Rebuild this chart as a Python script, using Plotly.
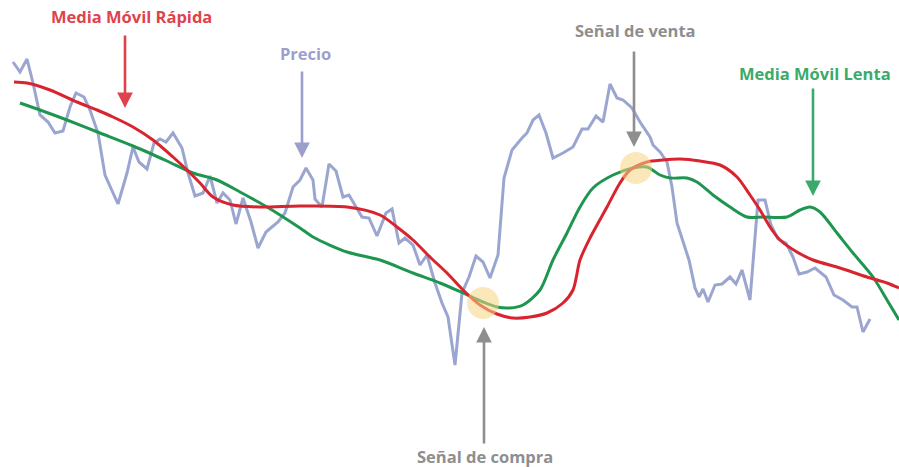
import plotly.graph_objects as go

# Price series (horizontal position, vertical level; y grows downward)
price_x = [13, 20, 27, 33, 40, 48, 55, 63, 70, 76, 84, 90, 98, 105, 118, 127, 133, 139, 147, 154,
           160, 166, 173, 182, 188, 195, 203, 210, 217, 223, 230, 236, 243, 251, 258, 266, 278, 285,
           293, 300, 306, 313, 315, 322, 329, 336, 343, 349, 362, 369, 377, 386, 392, 399, 405, 413,
           420, 427, 435, 442, 448, 455, 462, 469, 476, 483, 490, 498, 504, 512, 522, 527, 533, 539,
           546, 553, 563, 573, 582, 588, 596, 603, 610, 617, 623, 632, 640, 650, 653, 660, 667, 672,
           677, 683, 689, 695, 699, 703, 708, 715, 722, 730, 736, 742, 750, 758, 765, 771, 778, 786,
           793, 799, 807, 815, 826, 834, 843, 852, 857, 863, 870]
price_y = [62, 72, 59, 83, 115, 122, 133, 131, 107, 93, 97, 110, 133, 175, 204, 173, 147, 162, 169, 143,
           139, 142, 133, 148, 173, 196, 193, 176, 203, 193, 200, 224, 198, 222, 248, 232, 222, 213,
           187, 180, 168, 180, 199, 207, 164, 171, 197, 195, 217, 218, 236, 213, 209, 243, 238, 245,
           265, 255, 283, 303, 317, 365, 293, 277, 256, 262, 278, 255, 178, 150, 138, 133, 120, 115,
           133, 158, 153, 147, 129, 129, 116, 122, 84, 98, 100, 108, 122, 137, 145, 152, 162, 187,
           223, 242, 260, 288, 297, 289, 302, 285, 284, 277, 284, 270, 300, 200, 200, 225, 239, 243,
           257, 274, 272, 268, 277, 295, 300, 307, 307, 332, 319]

fast_x = [14, 27, 50, 77, 97, 113, 133, 153, 173, 187, 200, 213, 233, 260, 300, 347, 380, 397, 413,
          430, 447, 463, 480, 497, 513, 530, 547, 563, 573, 580, 590, 607, 620, 630, 647, 663, 680,
          700, 720, 737, 750, 760, 770, 780, 797, 813, 840, 867, 887, 899]
fast_y = [82, 83, 90, 102, 110, 117, 127, 140, 157, 170, 183, 197, 205, 207, 206, 207, 215, 227, 240,
          257, 273, 290, 305, 314, 318, 317, 313, 303, 290, 260, 238, 207, 183, 170, 162, 160, 159,
          161, 165, 177, 195, 210, 227, 240, 252, 260, 268, 277, 283, 288]

slow_x = [20, 40, 67, 100, 133, 167, 193, 217, 240, 267, 300, 313, 347, 380, 413, 440, 463, 483,
          497, 510, 523, 540, 553, 567, 580, 593, 613, 633, 647, 660, 670, 687, 697, 713, 730, 747,
          763, 787, 800, 810, 820, 837, 853, 873, 887, 899]
slow_y = [103, 110, 120, 133, 146, 161, 173, 180, 192, 207, 228, 237, 252, 260, 273, 283, 293, 302,
          307, 308, 305, 290, 260, 233, 207, 188, 175, 168, 167, 175, 178, 178, 182, 195, 207, 217,
          217, 217, 210, 207, 212, 233, 253, 277, 300, 320]

signal_x = [483, 636]
signal_y = [303, 168]

labels = ["Media Móvil Rápida", "Precio", "Señal de venta", "Media Móvil Lenta", "Señal de compra"]
label_colors = ["#E0424C", "#9C9FCC", "#8E8E8E", "#3AAA6C", "#8E8E8E"]
label_pos = [(131, 16), (305, 53), (635, 30), (815, 73), (485, 456)]
arrow_from = [(125, 34), (302, 70), (634, 50), (813, 87), (484, 445)]
arrow_to = [(125, 108), (302, 158), (634, 147), (813, 196), (484, 327)]

fig = go.Figure()

fig.add_trace(go.Scatter(x=price_x, y=price_y, mode="lines",
                         line=dict(color="#9AA6D0", width=3), hoverinfo="skip"))
fig.add_trace(go.Scatter(x=slow_x, y=slow_y, mode="lines",
                         line=dict(color="#1E9650", width=3, shape="spline", smoothing=0.8), hoverinfo="skip"))
fig.add_trace(go.Scatter(x=fast_x, y=fast_y, mode="lines",
                         line=dict(color="#D8242F", width=3, shape="spline", smoothing=0.8), hoverinfo="skip"))
fig.add_trace(go.Scatter(x=signal_x, y=signal_y, mode="markers",
                         marker=dict(size=32, color="rgba(248,214,130,0.55)", line=dict(width=0)),
                         hoverinfo="skip"))

annotations = []
for txt, col, (tx, ty), (fx, fy), (ex, ey) in zip(labels, label_colors, label_pos, arrow_from, arrow_to):
    annotations.append(dict(x=tx, y=ty, xref="x", yref="y", text="<b>%s</b>" % txt, showarrow=False,
                            font=dict(family="Open Sans", size=16.5, color=col),
                            borderpad=0))
    annotations.append(dict(x=ex, y=ey, ax=fx, ay=fy, xref="x", yref="y", axref="x", ayref="y",
                            text="", showarrow=True, arrowhead=2, arrowsize=1.2, arrowwidth=2.6,
                            arrowcolor=col, standoff=0, startstandoff=0))

fig.update_layout(
    width=899, height=467,
    margin=dict(l=0, r=0, t=0, b=0),
    paper_bgcolor="white", plot_bgcolor="white",
    showlegend=False,
    xaxis=dict(range=[0, 899], visible=False, fixedrange=True),
    yaxis=dict(range=[467, 0], visible=False, fixedrange=True),
    annotations=annotations,
)

fig.write_html("out.html", config={"displayModeBar": False},
               post_script="document.body.style.margin='0';document.body.style.overflow='hidden';")
